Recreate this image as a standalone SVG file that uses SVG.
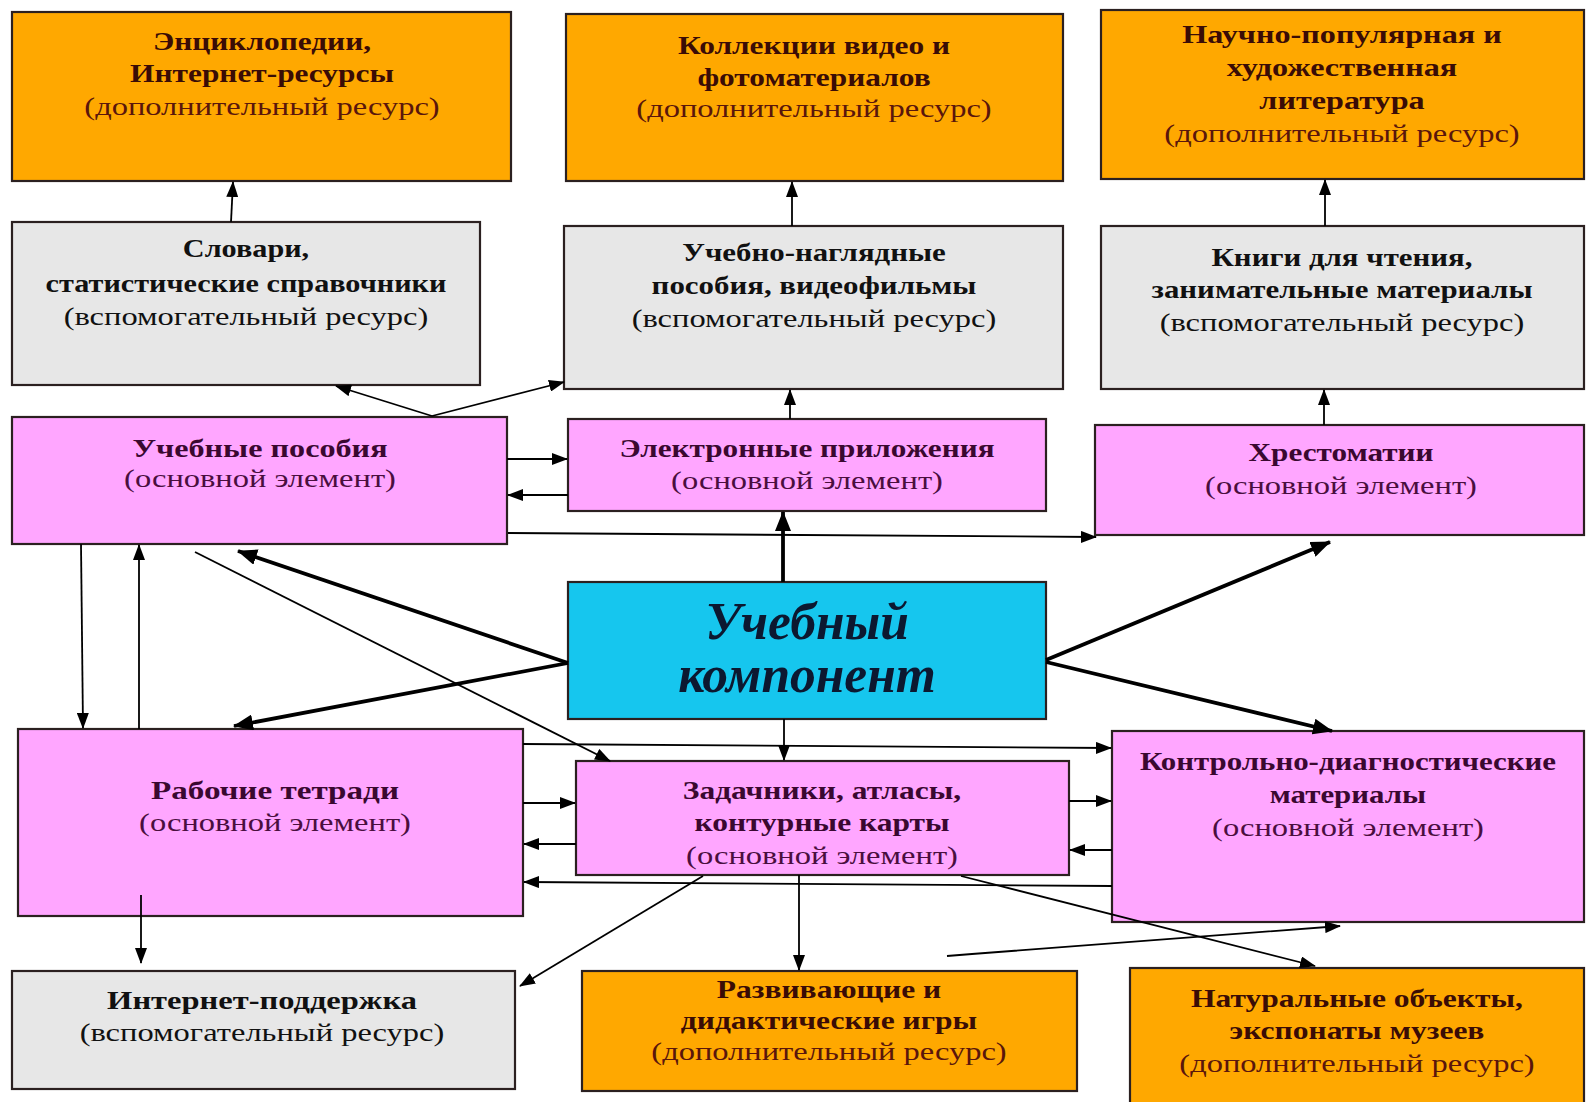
<svg xmlns="http://www.w3.org/2000/svg" width="1596" height="1102" viewBox="0 0 1596 1102">
<style>
.box{stroke:#2b2020;stroke-width:2.2}
.or{fill:#FFA800}
.gr{fill:#E7E7E7}
.pk{fill:#FFA6FF}
.cy{fill:#16C6EE}
.t{font-family:"Liberation Serif","Times New Roman",serif;font-size:26px;text-anchor:middle}
.b{font-weight:bold}
.tor{fill:#3a0c06}
.sor{fill:#5a160c}
.tgr{fill:#111}
.tpk{fill:#3a0830}
.spk{fill:#4a0e3e}
.big{font-family:"Liberation Serif","Times New Roman",serif;font-size:52px;font-weight:bold;font-style:italic;text-anchor:middle;fill:#0c1830}
.ln{stroke:#000;stroke-width:1.8;fill:none;marker-end:url(#a)}
.th{stroke:#000;stroke-width:3.8;fill:none;marker-end:url(#ah)}
</style>
<defs>
<marker id="a" markerUnits="userSpaceOnUse" markerWidth="16" markerHeight="12" refX="15" refY="6" orient="auto"><path d="M0,0 L16,6 L0,12 z" fill="#000"/></marker>
<marker id="ah" markerUnits="userSpaceOnUse" markerWidth="20" markerHeight="16" refX="19" refY="8" orient="auto"><path d="M0,0 L20,8 L0,16 z" fill="#000"/></marker>
</defs>
<rect width="1596" height="1102" fill="#fff"/>

<g id="n-encyclopedia">
<rect class="box or" x="12" y="12" width="499" height="169"/>
<g transform="translate(262 0) scale(1.25 1)">
<text class="t b tor" transform="scale(0.965 1)" x="0" y="50">Энциклопедии,</text>
<text class="t b tor" transform="scale(0.965 1)" x="0" y="82">Интернет-ресурсы</text>
<text class="t sor" x="0" y="115">(дополнительный ресурс)</text>
</g>
</g>

<g id="n-collections">
<rect class="box or" x="566" y="14" width="497" height="167"/>
<g transform="translate(814 0) scale(1.25 1)">
<text class="t b tor" transform="scale(0.965 1)" x="0" y="54">Коллекции видео и</text>
<text class="t b tor" transform="scale(0.965 1)" x="0" y="86">фотоматериалов</text>
<text class="t sor" x="0" y="117">(дополнительный ресурс)</text>
</g>
</g>

<g id="n-literature">
<rect class="box or" x="1101" y="10" width="483" height="169"/>
<g transform="translate(1342 0) scale(1.25 1)">
<text class="t b tor" transform="scale(0.99 1)" x="0" y="43">Научно-популярная и</text>
<text class="t b tor" transform="scale(0.99 1)" x="0" y="76">художественная</text>
<text class="t b tor" transform="scale(0.99 1)" x="0" y="109">литература</text>
<text class="t sor" x="0" y="142">(дополнительный ресурс)</text>
</g>
</g>

<g id="n-dictionaries">
<rect class="box gr" x="12" y="222" width="468" height="163"/>
<g transform="translate(246 0) scale(1.25 1)">
<text class="t b tgr" transform="scale(0.93 1)" x="0" y="257">Словари,</text>
<text class="t b tgr" transform="scale(0.93 1)" x="0" y="292">статистические справочники</text>
<text class="t tgr" x="0" y="325">(вспомогательный ресурс)</text>
</g>
</g>

<g id="n-visual">
<rect class="box gr" x="564" y="226" width="499" height="163"/>
<g transform="translate(814 0) scale(1.25 1)">
<text class="t b tgr" transform="scale(0.95 1)" x="0" y="261">Учебно-наглядные</text>
<text class="t b tgr" transform="scale(0.95 1)" x="0" y="294">пособия, видеофильмы</text>
<text class="t tgr" x="0" y="327">(вспомогательный ресурс)</text>
</g>
</g>

<g id="n-books">
<rect class="box gr" x="1101" y="226" width="483" height="163"/>
<g transform="translate(1342 0) scale(1.25 1)">
<text class="t b tgr" transform="scale(0.95 1)" x="0" y="266">Книги для чтения,</text>
<text class="t b tgr" transform="scale(0.95 1)" x="0" y="298">занимательные материалы</text>
<text class="t tgr" x="0" y="331">(вспомогательный ресурс)</text>
</g>
</g>

<g id="n-textbooks">
<rect class="box pk" x="12" y="417" width="495" height="127"/>
<g transform="translate(260 0) scale(1.25 1)">
<text class="t b tpk" transform="scale(0.99 1)" x="0" y="457">Учебные пособия</text>
<text class="t spk" x="0" y="487">(основной элемент)</text>
</g>
</g>

<g id="n-electronic">
<rect class="box pk" x="568" y="419" width="478" height="92"/>
<g transform="translate(807 0) scale(1.25 1)">
<text class="t b tpk" transform="scale(0.96 1)" x="0" y="457">Электронные приложения</text>
<text class="t spk" x="0" y="489">(основной элемент)</text>
</g>
</g>

<g id="n-readers">
<rect class="box pk" x="1095" y="425" width="489" height="110"/>
<g transform="translate(1341 0) scale(1.25 1)">
<text class="t b tpk" transform="scale(0.96 1)" x="0" y="461">Хрестоматии</text>
<text class="t spk" x="0" y="494">(основной элемент)</text>
</g>
</g>

<g id="n-core">
<rect class="box cy" x="568" y="582" width="478" height="137"/>
<g transform="translate(807 0) scale(0.99 1)">
<text class="big" x="0" y="639">Учебный</text>
<text class="big" x="0" y="692">компонент</text>
</g>
</g>

<g id="n-workbooks">
<rect class="box pk" x="18" y="729" width="505" height="187"/>
<g transform="translate(275 0) scale(1.25 1)">
<text class="t b tpk" transform="scale(1.02 1)" x="0" y="799">Рабочие тетради</text>
<text class="t spk" x="0" y="831">(основной элемент)</text>
</g>
</g>

<g id="n-tasks">
<rect class="box pk" x="576" y="761" width="493" height="114"/>
<g transform="translate(822 0) scale(1.25 1)">
<text class="t b tpk" transform="scale(0.97 1)" x="0" y="799">Задачники, атласы,</text>
<text class="t b tpk" transform="scale(0.97 1)" x="0" y="831">контурные карты</text>
<text class="t spk" x="0" y="864">(основной элемент)</text>
</g>
</g>

<g id="n-control">
<rect class="box pk" x="1112" y="731" width="472" height="191"/>
<g transform="translate(1348 0) scale(1.25 1)">
<text class="t b tpk" transform="scale(0.95 1)" x="0" y="770">Контрольно-диагностические</text>
<text class="t b tpk" transform="scale(0.95 1)" x="0" y="803">материалы</text>
<text class="t spk" x="0" y="836">(основной элемент)</text>
</g>
</g>

<g id="n-internet">
<rect class="box gr" x="12" y="971" width="503" height="118"/>
<g transform="translate(262 0) scale(1.25 1)">
<text class="t b tgr" transform="scale(1.0 1)" x="0" y="1009">Интернет-поддержка</text>
<text class="t tgr" x="0" y="1041">(вспомогательный ресурс)</text>
</g>
</g>

<g id="n-games">
<rect class="box or" x="582" y="971" width="495" height="120"/>
<g transform="translate(829 0) scale(1.25 1)">
<text class="t b tor" transform="scale(0.97 1)" x="0" y="998">Развивающие и</text>
<text class="t b tor" transform="scale(0.97 1)" x="0" y="1029">дидактические игры</text>
<text class="t sor" x="0" y="1060">(дополнительный ресурс)</text>
</g>
</g>

<g id="n-natural">
<rect class="box or" x="1130" y="968" width="454" height="140"/>
<g transform="translate(1357 0) scale(1.25 1)">
<text class="t b tor" transform="scale(0.97 1)" x="0" y="1007">Натуральные объекты,</text>
<text class="t b tor" transform="scale(0.97 1)" x="0" y="1039">экспонаты музеев</text>
<text class="t sor" x="0" y="1072">(дополнительный ресурс)</text>
</g>
</g>

<g id="connectors">
<line class="ln" x1="231" y1="222" x2="233" y2="182"/>
<line class="ln" x1="792" y1="226" x2="792" y2="182"/>
<line class="ln" x1="1325" y1="226" x2="1325" y2="180"/>
<line class="ln" x1="432" y1="416" x2="336" y2="386"/>
<line class="ln" x1="432" y1="416" x2="564" y2="382"/>
<line class="ln" x1="790" y1="419" x2="790" y2="390"/>
<line class="ln" x1="1324" y1="425" x2="1324" y2="390"/>
<line class="ln" x1="507" y1="459" x2="567" y2="459"/>
<line class="ln" x1="568" y1="495" x2="508" y2="495"/>
<line class="ln" x1="508" y1="533" x2="1096" y2="537"/>
<line class="th" x1="783" y1="582" x2="783" y2="512"/>
<line class="th" x1="568" y1="663" x2="238" y2="551"/>
<line class="th" x1="568" y1="663" x2="234" y2="726"/>
<line class="th" x1="1046" y1="660" x2="1330" y2="542"/>
<line class="th" x1="1046" y1="662" x2="1332" y2="731"/>
<line class="ln" x1="784" y1="719" x2="784" y2="760"/>
<line class="ln" x1="195" y1="552" x2="610" y2="761"/>
<line class="ln" x1="81" y1="544" x2="83" y2="728"/>
<line class="ln" x1="139" y1="729" x2="139" y2="545"/>
<line class="ln" x1="523" y1="744" x2="1111" y2="748"/>
<line class="ln" x1="523" y1="803" x2="575" y2="803"/>
<line class="ln" x1="576" y1="844" x2="524" y2="844"/>
<line class="ln" x1="1112" y1="886" x2="524" y2="882"/>
<line class="ln" x1="1069" y1="801" x2="1111" y2="801"/>
<line class="ln" x1="1112" y1="850" x2="1070" y2="850"/>
<line class="ln" x1="141" y1="895" x2="141" y2="963"/>
<line class="ln" x1="703" y1="876" x2="520" y2="986"/>
<line class="ln" x1="799" y1="875" x2="799" y2="970"/>
<polyline class="ln" points="947,956 972,954 1340,926"/>
<line class="ln" x1="961" y1="876" x2="1315" y2="966"/>
</g>
</svg>
